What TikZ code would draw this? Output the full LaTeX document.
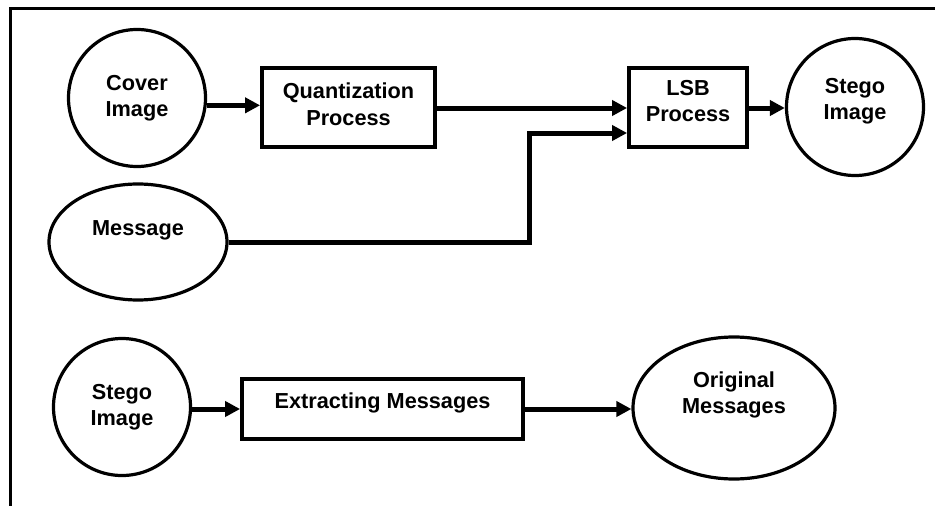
\documentclass[tikz,border=0pt]{standalone}
\usepackage{fontspec}
\setmainfont{Liberation Sans}
\usetikzlibrary{arrows.meta,shapes.geometric}
\tikzset{
  txt/.style={font=\bfseries\fontsize{21.7}{26.5}\selectfont, align=center, inner sep=0pt},
  circ/.style={draw, circle, line width=3.2pt, minimum size=137pt, inner sep=0pt},
  ell/.style={draw, ellipse, line width=3.2pt, inner sep=0pt},
  procbox/.style={draw, rectangle, line width=3.8pt, inner sep=0pt},
  arr/.style={line width=5pt, -{Triangle[length=15pt,width=15pt]}},
  frameline/.style={line width=3pt}
}
\begin{document}
\begin{tikzpicture}[x=1pt,y=-1pt]
\useasboundingbox (0,0) rectangle (935,506);
\draw[frameline] (10,506) -- (10,8) -- (935,8);

% top flow
\node[circ] (cover) at (137,98) {};
\node[txt] (covert) at (137,98) {Cover\\Image};
\node[procbox, minimum width=173pt, minimum height=79pt] (quant) at (348.5,107.5) {};
\node[txt] (quantt) at (348.5,104) {Quantization\\Process};
\node[procbox, minimum width=118pt, minimum height=79pt] (lsb) at (688,107.5) {};
\node[txt] (lsbt) at (688,101) {LSB\\Process};
\node[circ] (stego) at (855,107) {};
\node[txt] (stegot) at (855,101) {Stego\\Image};
\node[ell, minimum width=178pt, minimum height=116pt] (msg) at (138,242) {};
\node[txt] (msgt) at (138,230) {Message};

\coordinate (mb) at (529,133);
\draw[arr] (cover.-6) -- (cover.-6 -| quant.west);
\draw[arr] (quant.east |- 0,108) -- (lsb.west |- 0,108);
\draw[arr] (msg.east) -| (mb) -- (mb -| lsb.west);
\draw[arr] (lsb.east |- 0,108) -- (stego.west |- 0,108);

% bottom flow
\node[circ] (stego2) at (122,407) {};
\node[txt] (stego2t) at (122,407) {Stego\\Image};
\node[procbox, minimum width=281pt, minimum height=60pt] (extract) at (382.5,409) {};
\node[txt] (extractt) at (382.5,403) {Extracting Messages};
\node[ell, minimum width=202pt, minimum height=142pt] (orig) at (734,408) {};
\node[txt] (origt) at (734,395) {Original\\Messages};

\draw[arr] (stego2.east |- 0,409) -- (extract.west |- 0,409);
\draw[arr] (extract.east |- 0,409) -- (orig.west |- 0,409);
\end{tikzpicture}
\end{document}
